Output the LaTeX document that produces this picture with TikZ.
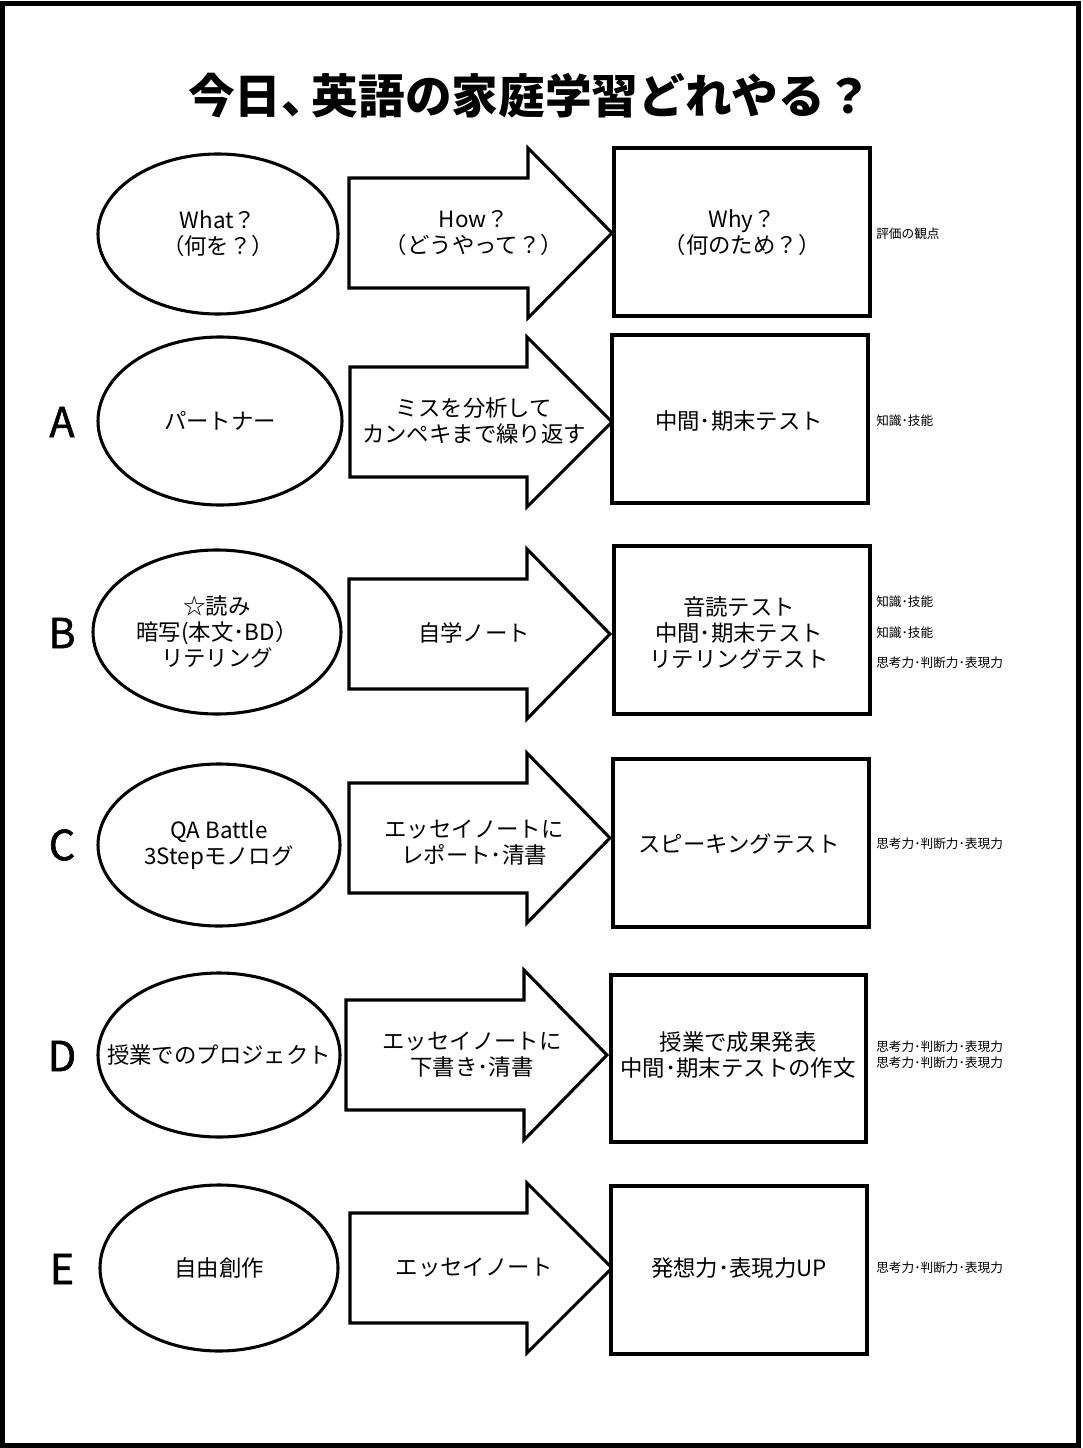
\documentclass[tikz,border=0pt]{standalone}
\usepackage{fontspec}
\setmainfont{Noto Sans CJK JP}
\newfontfamily\letterfont{Noto Sans CJK JP}[FakeBold=1.3]
\begin{document}
\begin{tikzpicture}[x=0.75pt,y=-0.75pt,
  shp/.style={draw=black,line width=2.3pt,line join=miter,fill=white},
  txt/.style={align=center,inner sep=0pt,font=\fontsize{16.8}{19.5}\selectfont},
  lab/.style={anchor=west,inner sep=0pt,font=\fontsize{9.5}{11.5}\selectfont},
  letter/.style={inner sep=0pt,font=\letterfont\fontsize{31}{33}\selectfont}]
\useasboundingbox (0,0) rectangle (1082,1448);
\draw[line width=4pt] (2.7,3.2) rectangle (1078.6,1445.8);
% block arrow macro: #1 body left, #2 head base, #3 tip x, #4 centre y
\newcommand\blockarr[4]{%
  \draw[shp] (#1,#4-55) -- (#2,#4-55) -- (#2,#4-85) -- (#3,#4) -- (#2,#4+85) -- (#2,#4+55) -- (#1,#4+55) -- cycle;}
% title
\node[inner sep=0pt,font=\fontsize{35}{38}\selectfont\bfseries] (title) at (530,96) {今日、\kern-0.35em 英語の家庭学習どれやる？};
% header row
\draw[shp] (218,234) ellipse [x radius=120,y radius=80];
\node[txt] (e0) at (218,234) {What？\\（何を？）};
\blockarr{349}{528}{612}{233}
\node[txt] (a0) at (474,233) {How？\\（どうやって？）};
\draw[shp] (614,148) rectangle (870,316);
\node[txt] (b0) at (742,233) {Why？\\（何のため？）};
\node[lab] (l0) at (876,234) {評価の観点};
% row A
\node[letter] (LA) at (62,422) {A};
\draw[shp] (220,421) ellipse [x radius=122,y radius=84];
\node[txt] (eA) at (220,421) {パートナー};
\blockarr{350}{527}{612}{422}
\node[txt] (aA) at (474,421) {ミスを分析して\\カンペキまで繰り返す};
\draw[shp] (612,335) rectangle (868,503);
\node[txt] (bA) at (739,421) {中間･期末テスト};
\node[lab] (lA) at (876,421) {知識･技能};
% row B
\node[letter] (LB) at (62,633) {B};
\draw[shp] (217,632) ellipse [x radius=124,y radius=82];
\node[txt] (eB) at (217,632) {☆読み\\暗写(本文･BD）\\リテリング};
\blockarr{349}{527}{610}{634}
\node[txt] (aB) at (474,633) {自学ノート};
\draw[shp] (614,546) rectangle (870,714);
\node[txt] (bB) at (739,633) {音読テスト\\中間･期末テスト\\リテリングテスト};
\node[lab] (lB1) at (876,602) {知識･技能};
\node[lab] (lB2) at (876,633) {知識･技能};
\node[lab] (lB3) at (876,663) {思考力･判断力･表現力};
% row C
\node[letter] (LC) at (62,845) {C};
\draw[shp] (219,845) ellipse [x radius=121,y radius=81];
\node[txt] (eC) at (219,845) {QA Battle\\3Stepモノログ};
\blockarr{349}{527}{610}{838}
\node[txt] (aC) at (474,843) {エッセイノートに\\レポート･清書};
\draw[shp] (613,759) rectangle (869,927);
\node[txt] (bC) at (739,844) {スピーキングテスト};
\node[lab] (lC) at (876,844) {思考力･判断力･表現力};
% row D
\node[letter] (LD) at (62,1056) {D};
\draw[shp] (219,1055) ellipse [x radius=121,y radius=82];
\node[txt] (eD) at (219,1055) {授業でのプロジェクト};
\blockarr{346}{524}{607}{1055}
\node[txt] (aD) at (472,1055) {エッセイノートに\\下書き･清書};
\draw[shp] (611,975) rectangle (866,1142);
\node[txt] (bD) at (738,1055) {授業で成果発表\\中間･期末テストの作文};
\node[lab] (lD1) at (876,1047) {思考力･判断力･表現力};
\node[lab] (lD2) at (876,1063) {思考力･判断力･表現力};
% row E
\node[letter] (LE) at (62,1269) {E};
\draw[shp] (219,1268) ellipse [x radius=119,y radius=83];
\node[txt] (eE) at (219,1268) {自由創作};
\blockarr{350}{527}{612}{1268}
\node[txt] (aE) at (474,1268) {エッセイノート};
\draw[shp] (611,1186) rectangle (867,1354);
\node[txt] (bE) at (739,1268) {発想力･表現力UP};
\node[lab] (lE) at (876,1268) {思考力･判断力･表現力};
\end{tikzpicture}
\end{document}
